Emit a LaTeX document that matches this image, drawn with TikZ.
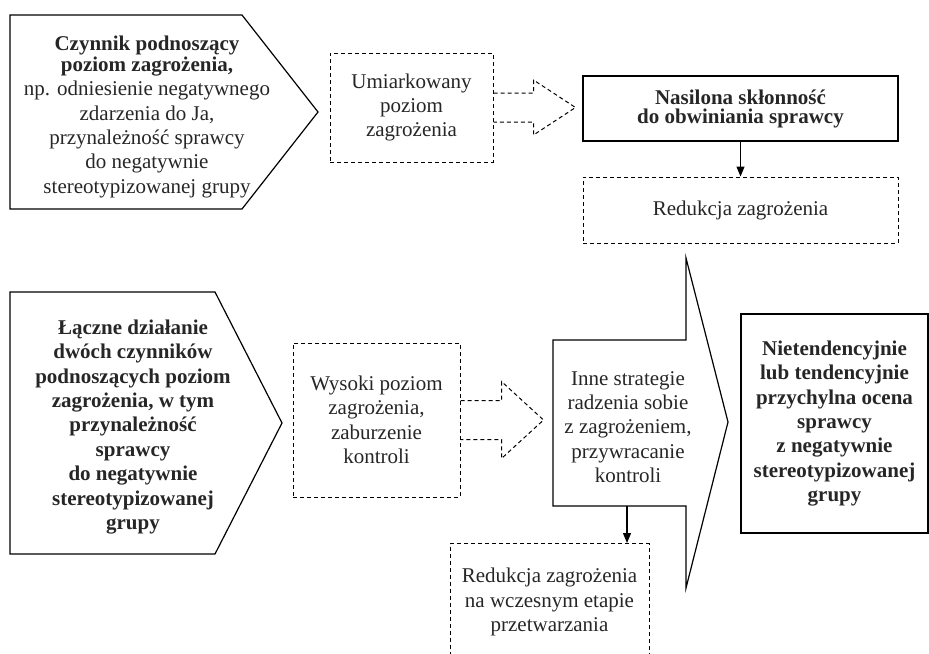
\documentclass[tikz,border=0pt]{standalone}
\usepackage{fontspec}
\setmainfont{Liberation Serif}
\usetikzlibrary{arrows.meta}

\begin{document}
\begin{tikzpicture}[x=0.5pt, y=-0.5pt, line width=0.6pt,
    font=\fontsize{10.5}{12.2}\selectfont, text=black!85,
    box/.style = {draw, rectangle, inner sep=0pt, align=center},
    dashline/.style = {line width=0.5pt, dash pattern=on 2pt off 1.5pt},
    dashbox/.style = {box, dashline},
    txt/.style = {align=center, inner sep=0pt},
    bold/.style = {font=\fontsize{10.5}{12.2}\selectfont\bfseries},
    arr/.style = {-{Triangle[length=5pt,width=4pt]}}]
    \useasboundingbox (0,0) rectangle (929,653);
    % top row
    \node[txt] (cause1) at (147,117) {\textbf{Czynnik podnoszący}\\[-2pt]\textbf{poziom zagrożenia,}\\np. odniesienie negatywnego\\zdarzenia do Ja,\\przynależność sprawcy\\do negatywnie\\stereotypizowanej grupy};
    \draw (10,15) -- (242,15) -- (318,112) -- (242,209) -- (10,209) -- cycle;
    \node[dashbox, minimum width=81.5pt, minimum height=54.5pt] (mod) at (411.5,107.5) {Umiarkowany\\poziom\\zagrożenia};
    \node[box, minimum width=157.5pt, minimum height=32.5pt, font=\fontsize{10.5}{9.5}\selectfont\bfseries] (blame) at (740.5,108.5) {Nasilona skłonność\\do obwiniania sprawcy};
    \node[dashbox, minimum width=157.5pt, minimum height=33pt] (red1) at (740.5,210) {Redukcja zagrożenia};
    \draw[dashline] (mod.east) ++(0,-14.5) -- ++(40,0) -- ++(0,-13) -- ++(42,27.5) -- ++(-42,27.5) -- ++(0,-13) -- ++(-40,0);
    \draw[arr] (blame) -- (red1);
    % bottom row
    \node[txt, bold] (cause2) at (133,427) {Łączne działanie\\dwóch czynników\\podnoszących poziom\\zagrożenia, w tym\\przynależność\\sprawcy\\do negatywnie\\stereotypizowanej\\grupy};
    \draw (10,292) -- (215,292) -- (282,423) -- (215,554) -- (10,554) -- cycle;
    \node[dashbox, minimum width=83.5pt, minimum height=77pt] (high) at (376.5,420) {Wysoki poziom\\zagrożenia,\\zaburzenie\\kontroli};
    \draw[dashline] (high.east) ++(0,-19.5) -- ++(41,0) -- ++(0,-19) -- ++(42,38.5) -- ++(-42,38.5) -- ++(0,-19) -- ++(-41,0);
    \node[txt] (strat) at (628,427) {Inne strategie\\radzenia sobie\\z zagrożeniem,\\przywracanie\\kontroli};
    \draw (553,340) -- (686,340) -- (686,258) -- (728,422) -- (686,588) -- (686,506) -- (553,506) -- cycle;
    \coordinate (stratbase) at (627,506);
    \node[box, bold, minimum width=93.5pt, minimum height=109.5pt] (eval) at (834.5,423.5) {Nietendencyjnie\\lub tendencyjnie\\przychylna ocena\\sprawcy\\z negatywnie\\stereotypizowanej\\grupy};
    \node[dashbox, anchor=north, minimum width=99.5pt, minimum height=58.5pt] (red2) at (549.5,543) {Redukcja zagrożenia\\na wczesnym etapie\\przetwarzania};
    \draw[arr] (stratbase) -- (stratbase |- red2.north);
\end{tikzpicture}
\end{document}
